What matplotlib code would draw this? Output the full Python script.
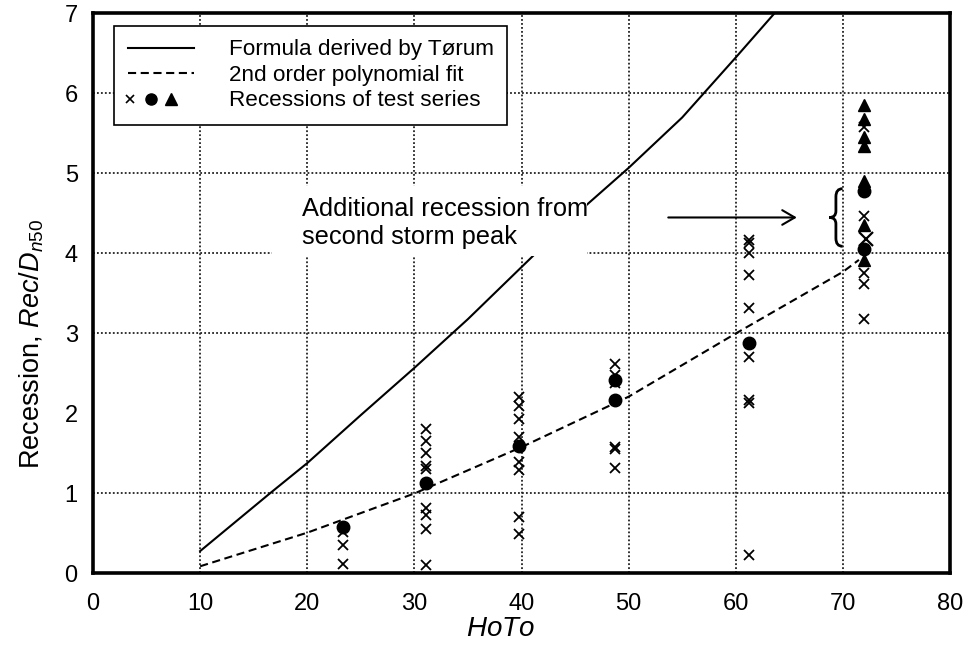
import matplotlib
matplotlib.use('Agg')
import matplotlib.pyplot as plt
from matplotlib.lines import Line2D
from matplotlib.legend_handler import HandlerTuple
from matplotlib.patches import Rectangle, PathPatch
from matplotlib.path import Path

plt.rcParams['font.family'] = ['Liberation Sans', 'DejaVu Sans']
plt.rcParams['mathtext.fontset'] = 'custom'
plt.rcParams['mathtext.rm'] = 'Liberation Sans'
plt.rcParams['mathtext.it'] = 'Liberation Sans:italic'

# ---------------- data ----------------
x_ticks = [0, 10, 20, 30, 40, 50, 60, 70, 80]
y_ticks = [0, 1, 2, 3, 4, 5, 6, 7]
grid_x = [10, 20, 30, 40, 50, 60, 70]
grid_y = [1, 3, 4, 5, 6]

torum_x = [10, 16.5, 20, 25, 30, 35, 40, 45, 50, 55, 60, 63.6]
torum_y = [0.28, 1.0, 1.38, 1.98, 2.57, 3.18, 3.83, 4.48, 5.07, 5.70, 6.45, 7.0]

poly_x = [10, 20, 30, 40, 50, 60, 70, 71.5]
poly_y = [0.09, 0.51, 1.0, 1.58, 2.21, 3.0, 3.77, 3.92]

cross_x = ([23.3] * 3 + [31.1] * 9 + [39.75] * 8 + [48.7] * 6 + [61.2] * 9 + [72.0] * 5)
cross_y = [0.52, 0.35, 0.12,
           1.80, 1.66, 1.50, 1.34, 1.30, 0.82, 0.73, 0.55, 0.10,
           2.20, 2.09, 1.93, 1.70, 1.39, 1.29, 0.70, 0.49,
           2.62, 2.48, 2.38, 1.58, 1.55, 1.32,
           4.17, 4.13, 4.00, 3.73, 3.32, 2.70, 2.17, 2.13, 0.23,
           5.58, 4.47, 3.76, 3.62, 3.18]

big_cross_x = [72.2]
big_cross_y = [4.18]

circle_x = [23.3, 31.1, 39.75, 48.7, 48.7, 61.2, 72.0, 72.0]
circle_y = [0.58, 1.13, 1.59, 2.42, 2.17, 2.88, 4.78, 4.05]

tri_x = [72.0] * 7
tri_y = [5.85, 5.68, 5.46, 5.34, 4.91, 4.35, 3.92]

legend_labels = ['Formula derived by Tørum', '2nd order polynomial fit',
                 'Recessions of test series']
note_text = 'Additional recession from\nsecond storm peak'

# ---------------- figure ----------------
fig = plt.figure(figsize=(9.68, 6.48), dpi=100)
ax = fig.add_axes([0.0961, 0.1150, 0.8853, 0.8642])

grid_kw = dict(color='#222222', lw=1.3, ls=(0, (1, 1.2)), zorder=1)
for gx in grid_x:
    ax.axvline(gx, **grid_kw)
for gy in grid_y:
    ax.axhline(gy, **grid_kw)

ax.plot(torum_x, torum_y, color='k', lw=1.5, zorder=2)
ax.plot(poly_x, poly_y, color='k', lw=1.5, dashes=(3.9, 2.2), zorder=2)

# white box behind annotation text
ax.add_patch(Rectangle((16.7, 3.97), 29.4, 0.87, facecolor='white',
                       edgecolor='none', zorder=3))
ax.text(19.5, 4.385, note_text, fontsize=18.3, va='center', ha='left',
        linespacing=1.2, zorder=4)

ax.annotate('', xy=(65.7, 4.45), xytext=(53.7, 4.45),
            arrowprops=dict(arrowstyle='->,head_length=0.6,head_width=0.35',
                            lw=1.5, color='k', mutation_scale=15,
                            shrinkA=0, shrinkB=0), zorder=4)

# brace
xe, xm, xt = 69.97, 69.35, 68.73
yt, yb, ym = 4.81, 4.09, 4.45
verts = [(xe, yt), (xm, yt), (xm, yt - 0.1), (xm, ym + 0.08),
         (xm, ym), (xt, ym), (xm, ym), (xm, ym - 0.08),
         (xm, yb + 0.1), (xm, yb), (xe, yb)]
codes = [Path.MOVETO, Path.CURVE3, Path.CURVE3, Path.LINETO,
         Path.CURVE3, Path.CURVE3, Path.CURVE3, Path.CURVE3,
         Path.LINETO, Path.CURVE3, Path.CURVE3]
ax.add_patch(PathPatch(Path(verts, codes), facecolor='none', edgecolor='k',
                       lw=2, zorder=4))

ax.plot(cross_x, cross_y, ls='none', marker='x', ms=7.5, mew=1.3, color='k', zorder=5)
ax.plot(big_cross_x, big_cross_y, ls='none', marker='x', ms=10.5, mew=1.6, color='k', zorder=5)
ax.plot(circle_x, circle_y, ls='none', marker='o', ms=9, color='k', zorder=6)
ax.plot(tri_x, tri_y, ls='none', marker='^', ms=8.5, color='k', zorder=6)

ax.set_xlim(0, 80)
ax.set_ylim(0, 7)
ax.set_xticks(x_ticks)
ax.set_yticks(y_ticks)
ax.tick_params(length=0, labelsize=17, colors='k')
ax.tick_params(axis='x', pad=14)
ax.tick_params(axis='y', pad=11)
for s in ax.spines.values():
    s.set_linewidth(2.6)
    s.set_color('k')

ax.set_xlabel('$\\mathit{HoTo}$', fontsize=20)
ax.xaxis.set_label_coords(0.475, -0.076)
ax.set_ylabel('Recession, $\\mathit{Rec/D}_{\\mathit{n50}}$', fontsize=19.5)
ax.yaxis.set_label_coords(-0.055, 0.41)

h_solid = Line2D([], [], color='k', lw=1.5)
h_dash = Line2D([], [], color='k', lw=1.5, dashes=(3.9, 2.2))
h_x = Line2D([], [], ls='none', marker='x', ms=6, mew=1.2, color='k')
h_o = Line2D([], [], ls='none', marker='o', ms=8, color='k')
h_t = Line2D([], [], ls='none', marker='^', ms=8, color='k')
leg = ax.legend([h_solid, h_dash, (h_x, h_o, h_t)], legend_labels,
                handler_map={tuple: HandlerTuple(ndivide=4, pad=0.68)},
                loc='upper left', bbox_to_anchor=(0.0245, 0.9777),
                borderaxespad=0, frameon=True, fancybox=False,
                edgecolor='k', framealpha=1, fontsize=16.2,
                handlelength=2.96, handletextpad=1.55, borderpad=0.6,
                labelspacing=0.2)
leg.get_frame().set_linewidth(1.2)
leg.set_zorder(10)

fig.savefig('out.png', dpi=100)
